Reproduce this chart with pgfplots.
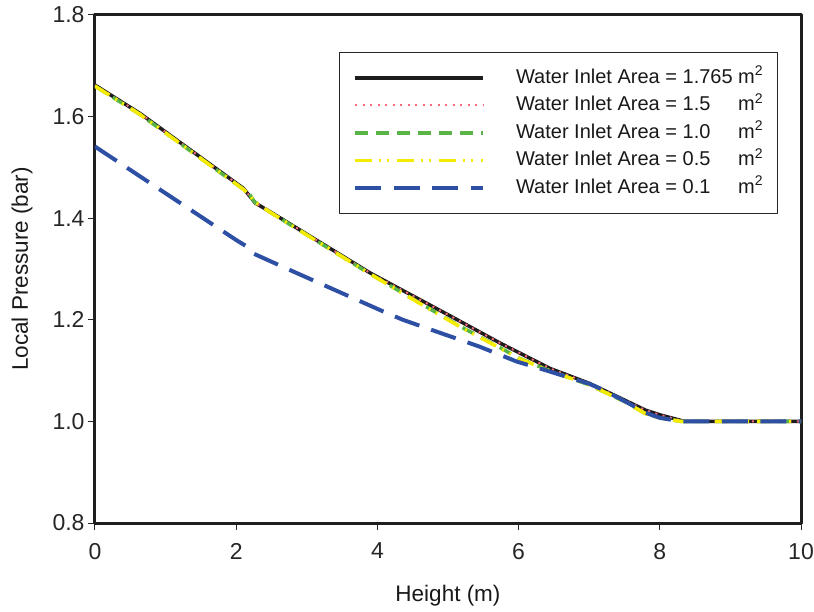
\documentclass[border=0pt]{standalone}
\usepackage{pgfplots}
\pgfplotsset{compat=1.18}
\usepackage{fontspec}
\setmainfont{Liberation Sans}
\definecolor{cblack}{RGB}{30,28,28}
\definecolor{cpink}{RGB}{250,105,125}
\definecolor{cgreen}{RGB}{90,180,70}
\definecolor{cyellow}{RGB}{245,235,0}
\definecolor{cblue}{RGB}{45,80,165}
\begin{document}
\begin{tikzpicture}
\path[use as bounding box] (-95bp,-89bp) rectangle (719bp,523bp);
\begin{axis}[
  scale only axis, width=706bp, height=508bp,
  xmin=0, xmax=10, ymin=0.8, ymax=1.8,
  xtick={0,2,4,6,8,10}, ytick={0.8,1.0,1.2,1.4,1.6,1.8},
  yticklabel style={/pgf/number format/.cd,fixed,fixed zerofill,precision=1},
  xticklabel style={yshift=-9.5bp},
  /pgf/number format/assume math mode=true,
  tick label style={font=\fontsize{23bp}{26bp}\selectfont, color=black!85},
  axis line style={line width=3bp, color=black!88},
  tick style={line width=1bp, color=black!85},
  major tick length=7bp,
  tick align=outside,
  xtick pos=bottom, ytick pos=left,
  xlabel={Height (m)}, ylabel={Local Pressure (bar)},
  label style={font=\fontsize{22.5bp}{26bp}\selectfont, color=black!90},
  xlabel style={at={(axis description cs:0.5,-0.1437)}, anchor=center},
  ylabel style={at={(axis description cs:-0.1034,0.5)}, anchor=center},
  legend style={at={(0.967,0.927)}, anchor=north east, draw=black!85, line width=1bp,
    inner xsep=14bp, inner ysep=16bp, font=\fontsize{20bp}{23bp}\selectfont,
    column sep=0pt, row sep=9bp,
    nodes={inner sep=0pt, text height=14.5bp, text depth=4bp, text=black!90}},
  legend cell align=left,
  legend image code/.code={\draw[#1] (0bp,0bp) -- (128bp,0bp); \path (159bp,0bp);},
  line join=round,
]
\addplot[cblack, line width=3.5bp] coordinates {
(0,1.662) (0.64,1.606) (2.10,1.459) (2.27,1.430) (2.5,1.411) (3.9,1.292)
(5.0,1.210) (5.74,1.154) (6.45,1.104) (7.0,1.075) (7.5,1.042) (7.8,1.022)
(8.0,1.013) (8.35,1.000) (10,1.000)};
\addlegendentry{Water Inlet Area = 1.765 m\textsuperscript{2}}
\addplot[cpink, line width=2bp, dash pattern=on 2bp off 5.5bp] coordinates {
(0,1.662) (0.64,1.606) (2.10,1.459) (2.27,1.430) (2.5,1.411) (3.9,1.292)
(5.0,1.210) (5.74,1.154) (6.45,1.104) (7.0,1.075) (7.5,1.042) (7.8,1.022)
(8.0,1.013) (8.35,1.000) (10,1.000)};
\addlegendentry{Water Inlet Area = \rlap{1.5}\phantom{1.765} m\textsuperscript{2}}
\addplot[cgreen, line width=3.5bp, dash pattern=on 13bp off 8bp] coordinates {
(0,1.660) (0.64,1.604) (2.10,1.457) (2.18,1.449) (2.26,1.432) (2.5,1.410)
(3.9,1.290) (4.7,1.225) (5.2,1.185) (5.74,1.145) (6.0,1.125) (6.45,1.099)
(7.0,1.072) (7.5,1.039) (7.8,1.015) (8.0,1.007) (8.3,1.000) (10,1.000)};
\addlegendentry{Water Inlet Area = \rlap{1.0}\phantom{1.765} m\textsuperscript{2}}
\addplot[cyellow, line width=3.5bp, dash pattern=on 17bp off 7bp on 2bp off 6bp on 2bp off 8bp] coordinates {
(0,1.660) (0.64,1.604) (2.10,1.457) (2.18,1.447) (2.26,1.432) (2.5,1.410)
(3.9,1.290) (4.7,1.224) (5.2,1.184) (5.74,1.144) (6.0,1.124) (6.45,1.099)
(7.0,1.072) (7.5,1.039) (7.8,1.015) (8.0,1.007) (8.3,1.000) (10,1.000)};
\addlegendentry{Water Inlet Area = \rlap{0.5}\phantom{1.765} m\textsuperscript{2}}
\addplot[cblue, line width=4bp, dash pattern=on 26bp off 12.5bp] coordinates {
(0,1.541) (2.0,1.357) (2.2,1.340) (2.25,1.330) (2.76,1.298) (4.04,1.219)
(4.36,1.200) (5.45,1.147) (5.97,1.118) (6.4,1.100) (7.0,1.074) (7.2,1.062)
(7.5,1.040) (7.8,1.017) (8.0,1.007) (8.3,1.000) (10,1.000)};
\addlegendentry{Water Inlet Area = \rlap{0.1}\phantom{1.765} m\textsuperscript{2}}
\end{axis}
\end{tikzpicture}
\end{document}
